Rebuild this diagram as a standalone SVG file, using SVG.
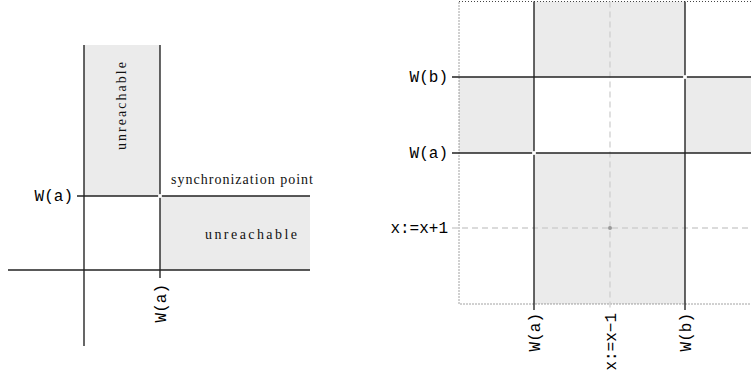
<svg xmlns="http://www.w3.org/2000/svg" width="751" height="376" viewBox="0 0 751 376">
<style>
.shade{fill:#ebebeb;stroke:none}
.ln{stroke:#000;stroke-width:1.2;fill:none}
.hl{stroke:#222;stroke-width:1.4;fill:none}
.dash{stroke:#cfcfcf;stroke-width:1.3;stroke-dasharray:6 4;fill:none}
.frame{stroke:#444;stroke-width:1;stroke-dasharray:1 2;fill:none}
.mono{font-family:"Liberation Mono","DejaVu Sans Mono",monospace;font-size:16px;fill:#000}
.serif{font-family:"Liberation Serif","DejaVu Serif",serif;font-size:14px;fill:#111}
.wdot{fill:#fff;stroke:none}
</style>
<rect width="751" height="376" fill="#fff"/>
<g id="left-diagram">
  <g id="left-regions">
    <rect class="shade" x="84" y="45" width="76" height="151"/>
    <rect class="shade" x="160" y="196" width="150" height="74"/>
  </g>
  <g id="left-connectors">
    <line class="ln" x1="84" y1="45" x2="84" y2="346"/>
    <line class="ln" x1="160" y1="45" x2="160" y2="278"/>
    <line class="hl" x1="77" y1="196" x2="310" y2="196"/>
    <line class="hl" x1="8" y1="270" x2="310" y2="270"/>
    <circle class="wdot" cx="160" cy="196" r="2"/>
  </g>
  <g id="left-labels">
    <text class="serif" x="126" y="106" text-anchor="middle" transform="rotate(-90 126 106)" textLength="88" lengthAdjust="spacing">unreachable</text>
    <text class="serif" x="251" y="239" text-anchor="middle" textLength="92" lengthAdjust="spacing">unreachable</text>
    <text class="serif" x="171" y="184" textLength="142" lengthAdjust="spacing">synchronization point</text>
    <text class="mono" x="73" y="201" text-anchor="end">W(a)</text>
    <text class="mono" x="165.5" y="284" text-anchor="end" transform="rotate(-90 165.5 284)">W(a)</text>
  </g>
</g>
<g id="right-diagram">
  <g id="right-regions">
    <rect class="shade" x="534" y="1.5" width="151" height="302.5"/>
    <rect class="shade" x="459" y="77" width="292" height="76"/>
    <rect fill="#fff" x="534" y="77" width="151" height="76"/>
  </g>
  <rect id="frame" class="frame" x="459" y="1.5" width="300" height="302.5"/>
  <g id="right-connectors">
    <line class="dash" x1="610" y1="1.5" x2="610" y2="310"/>
    <line class="dash" x1="452" y1="228" x2="751" y2="228"/>
    <line class="ln" x1="534" y1="1.5" x2="534" y2="310"/>
    <line class="ln" x1="685" y1="1.5" x2="685" y2="310"/>
    <line class="hl" x1="452" y1="77" x2="751" y2="77"/>
    <line class="hl" x1="452" y1="153" x2="751" y2="153"/>
    <circle class="wdot" cx="685" cy="77" r="2"/>
    <circle class="wdot" cx="534" cy="153" r="2"/>
    <circle cx="610" cy="228" r="2" fill="#999"/>
  </g>
  <g id="right-labels">
    <text class="mono" x="448" y="82" text-anchor="end">W(b)</text>
    <text class="mono" x="448" y="158" text-anchor="end">W(a)</text>
    <text class="mono" x="448" y="233" text-anchor="end">x:=x+1</text>
    <text class="mono" x="539.5" y="313" text-anchor="end" transform="rotate(-90 539.5 313)">W(a)</text>
    <text class="mono" x="615.5" y="313" text-anchor="end" transform="rotate(-90 615.5 313)">x:=x−1</text>
    <text class="mono" x="690.5" y="313" text-anchor="end" transform="rotate(-90 690.5 313)">W(b)</text>
  </g>
</g>
</svg>
